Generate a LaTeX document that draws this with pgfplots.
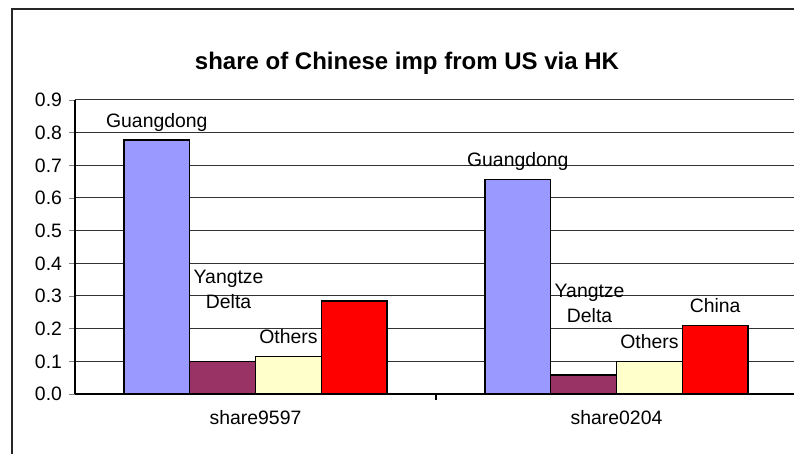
\documentclass[border=0pt]{standalone}
\usepackage{pgfplots}
\pgfplotsset{compat=1.18}
\usepackage{fontspec}
\setmainfont{Liberation Sans}
\definecolor{gd}{HTML}{9999FF}
\definecolor{yd}{HTML}{993366}
\definecolor{ot}{HTML}{FFFFCC}
\definecolor{cn}{HTML}{FF0000}

\begin{document}
\begin{tikzpicture}
\path[use as bounding box] (0pt,0pt) rectangle (397pt,227pt);
\clip (0pt,0pt) rectangle (397pt,227pt);
% chart area frame (only left and top edges are inside the picture)
\draw[black!85, line width=1pt] (6pt,-5pt) -- (6pt,222.5pt) -- (400pt,222.5pt);
\node[font=\bfseries\fontsize{12}{14}\selectfont, anchor=base] at (203.5pt,192pt) {share of Chinese imp from US via HK};
\begin{axis}[
  at={(37.5pt,30pt)}, anchor=south west,
  scale only axis, width=361pt, height=147pt,
  xmin=-0.5, xmax=1.5, ymin=0, ymax=0.9,
  ybar=0pt, bar width=32.9pt,
  axis lines*=left,
  axis line style={black, line width=0.6pt},
  ymajorgrids, grid style={black!80, line width=0.5pt},
  ytick={0,0.1,0.2,0.3,0.4,0.5,0.6,0.7,0.8,0.9},
  ytick align=outside, major tick length=3pt,
  yticklabel style={/pgf/number format/.cd, fixed, fixed zerofill, precision=1, assume math mode=true},
  xtick={0,1}, xticklabels={share9597,share0204},
  x tick style={draw=none},
  extra x ticks={0.5}, extra x tick labels={},
  extra x tick style={x tick style={draw=black, line width=0.6pt}, xtick align=outside, grid=none},
  xticklabel style={yshift=-1.6pt},
  tick label style={font=\fontsize{9.7}{11.6}\selectfont, black},
  every axis plot/.append style={draw=black, line width=0.7pt},
  every node near coord/.append style={font=\fontsize{9.7}{12.5}\selectfont, black, anchor=base, yshift=6.5pt, line width=0pt},
]
\addplot[fill=gd, nodes near coords={Guangdong}] coordinates {(0,0.777) (1,0.657)};
\addplot[fill=yd, nodes near coords={Yangtze\\Delta},
  every node near coord/.append style={align=center, yshift=20pt, xshift=3pt}] coordinates {(0,0.099) (1,0.058)};
\addplot[fill=ot, nodes near coords={Others}] coordinates {(0,0.114) (1,0.099)};
\addplot[fill=cn, nodes near coords, point meta=explicit symbolic] coordinates {(0,0.285) [{}] (1,0.210) [China]};
\end{axis}
\end{tikzpicture}
\end{document}
